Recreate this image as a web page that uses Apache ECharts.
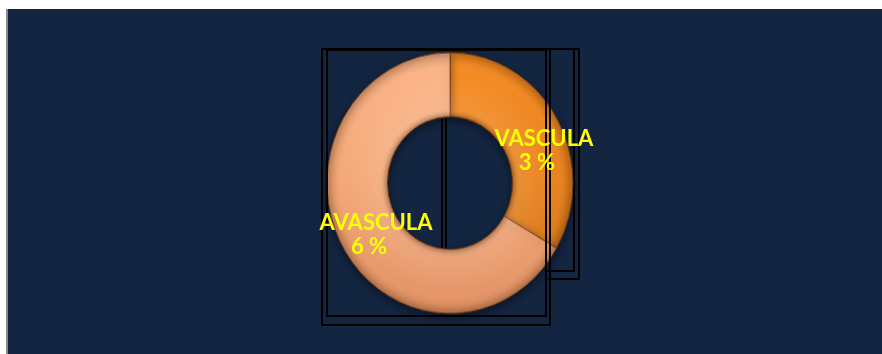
<!DOCTYPE html>
<html>
<head>
<meta charset="utf-8">
<script src="https://cdn.jsdelivr.net/npm/echarts@6/dist/echarts.min.js"></script>
<style>
  html, body { margin: 0; padding: 0; background: #ffffff; }
  #stage { position: relative; width: 882px; height: 354px; overflow: hidden; }
  #panel { position: absolute; left: 8px; top: 9px; right: 0; bottom: 0; background: #132540; }
  #edge { position: absolute; left: 6px; top: 9px; width: 2px; bottom: 0; background: #8a8a8a; }
  .layer { position: absolute; left: 0; top: 0; width: 882px; height: 354px; }
  /* the ring is drawn slightly taller than wide */
  #ring { transform: scaleY(1.06); transform-origin: 0 183px; }
</style>
</head>
<body>
<div id="stage">
  <div id="panel"></div>
  <div id="edge"></div>
  <div id="back" class="layer"></div>
  <div id="ring" class="layer"></div>
  <div id="front" class="layer"></div>
</div>
<script>
// Share of cases by type (percent)
const categories = ['VASCULA', 'AVASCULA'];
const percents = [3, 6];

// Slice fills: top-to-bottom shading for a rounded, glossy ring
const sliceFills = [
  ['#F78C22', '#E9821E', '#CC721C'],
  ['#FDB68A', '#F4A877', '#E39265']
];
const labelOffsets = [[11, 16], [9, 4]];

const CX = 450, CY = 183, R_IN = 62.5, R_OUT = 123;

function vertical(stops) {
  return {
    type: 'linear', global: true,
    x: 0, y: CY - R_OUT, x2: 0, y2: CY + R_OUT,
    colorStops: [
      { offset: 0, color: stops[0] },
      { offset: 0.5, color: stops[1] },
      { offset: 1, color: stops[2] }
    ]
  };
}

// Radial shading over the ring: darker rims, soft highlight in between
const bevel = {
  type: 'radial', global: true, x: CX, y: CY, r: R_OUT,
  colorStops: [
    { offset: 0.0, color: 'rgba(0,0,0,0)' },
    { offset: R_IN / R_OUT, color: 'rgba(60,25,0,0.35)' },
    { offset: R_IN / R_OUT + 0.06, color: 'rgba(255,255,255,0.10)' },
    { offset: 0.86, color: 'rgba(255,255,255,0.0)' },
    { offset: 0.95, color: 'rgba(60,25,0,0.10)' },
    { offset: 1.0, color: 'rgba(60,25,0,0.30)' }
  ]
};

function line(points, z) {
  return {
    type: 'polyline', z: z, silent: true,
    shape: { points: points },
    style: { fill: 'none', stroke: '#000000', lineWidth: 2 }
  };
}
function frame(x1, y1, x2, y2, z) {
  return {
    type: 'rect', z: z, silent: true,
    shape: { x: x1, y: y1, width: x2 - x1, height: y2 - y1 },
    style: { fill: 'none', stroke: '#000000', lineWidth: 2 }
  };
}

const pieBase = {
  type: 'pie',
  silent: true,
  center: [CX, CY],
  radius: [R_IN, R_OUT],
  startAngle: 90,
  clockwise: true,
  labelLine: { show: false }
};

// Frames that sit behind the ring
const back = echarts.init(document.getElementById('back'));
back.setOption({
  animation: false,
  graphic: {
    elements: [
      line([[442, 49], [574, 49], [574, 271], [546, 271]], 1),
      line([[446, 49], [579, 49], [579, 279], [548, 279]], 1),
      line([[442, 100], [442, 260]], 1),
      line([[446, 100], [446, 260]], 1)
    ]
  }
});

// The doughnut itself
const ring = echarts.init(document.getElementById('ring'));
ring.setOption({
  animation: false,
  series: [
    Object.assign({}, pieBase, {
      z: 2,
      label: { show: false },
      itemStyle: {
        borderColor: 'rgba(110,60,25,0.8)',
        borderWidth: 1,
        shadowBlur: 8,
        shadowOffsetY: 3,
        shadowColor: 'rgba(0,0,0,0.45)'
      },
      data: categories.map((name, i) => ({
        name: name, value: percents[i],
        itemStyle: { color: vertical(sliceFills[i]) }
      }))
    }),
    Object.assign({}, pieBase, {
      z: 3,
      label: { show: false },
      itemStyle: { borderWidth: 0, color: bevel },
      data: categories.map((name, i) => ({ name: name, value: percents[i] }))
    })
  ]
});

// Frames in front of the ring, and the slice labels
const front = echarts.init(document.getElementById('front'));
front.setOption({
  animation: false,
  graphic: {
    elements: [
      frame(322, 49, 550, 325, 1),
      frame(327, 50, 546, 316, 1)
    ]
  },
  series: [
    Object.assign({}, pieBase, {
      z: 5,
      itemStyle: { color: 'rgba(0,0,0,0)', borderWidth: 0 },
      label: {
        show: true,
        position: 'inside',
        formatter: '{b}\n{v|{c} %}',
        color: '#FFFF00',
        fontFamily: 'Lato',
        fontWeight: 'bold',
        fontSize: 22,
        lineHeight: 24,
        align: 'center',
        rich: {
          v: {
            color: '#FFFF00', fontFamily: 'Lato', fontWeight: 'bold',
            fontSize: 22, lineHeight: 24, padding: [0, 14, 0, 0]
          }
        }
      },
      data: categories.map((name, i) => ({
        name: name, value: percents[i],
        label: { offset: labelOffsets[i] }
      }))
    })
  ]
});
</script>
</body>
</html>
